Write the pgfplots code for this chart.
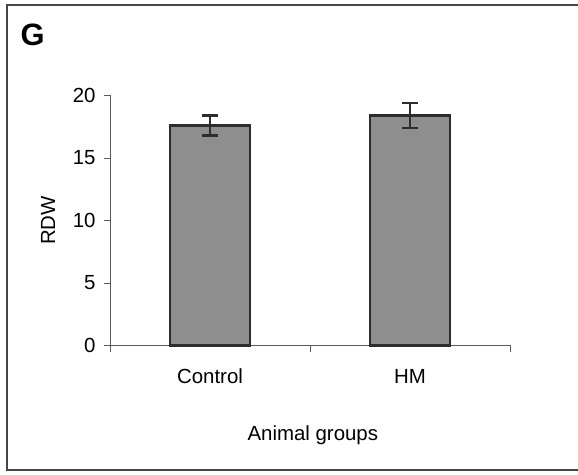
\documentclass[border=0pt]{standalone}
\usepackage{pgfplots}
\pgfplotsset{compat=1.18}
\usepackage{pgfplotstable}
\usepackage{fontspec}
\setmainfont{Liberation Sans}
\definecolor{barfill}{RGB}{142,142,142}
\definecolor{baredge}{RGB}{45,45,45}
\definecolor{axisgray}{RGB}{90,90,90}
\definecolor{framegray}{RGB}{70,70,70}

\pgfplotstableread{
x  rdw  err
1  17.6 0.8
2  18.4 1.0
}\rdwdata

\begin{document}
\begin{tikzpicture}
  \path[use as bounding box] (0,0) rectangle (578bp,475bp);
  % panel frame, open on the right as in the scan
  \draw[framegray, line width=1.6bp] (578bp,470bp) -- (7bp,470bp) -- (7bp,5bp) -- (578bp,5bp);
  \node[anchor=base west, inner sep=0pt, font=\fontsize{31}{34}\selectfont\bfseries]
    at (20.5bp,429bp) {G};

  \begin{axis}[
      at={(110bp,129.5bp)}, anchor=south west,
      scale only axis,
      width=400bp, height=250bp,
      xmin=0.5, xmax=2.5,
      ymin=0, ymax=20,
      axis x line=bottom, axis y line=left,
      axis line style={axisgray, line width=0.8bp, -},
      ytick={0,5,10,15,20},
      xtick={0.5,1.5,2.5},
      xticklabels={},
      extra x ticks={1,2},
      extra x tick labels={Control,HM},
      extra x tick style={major tick length=0pt,
        tick label style={anchor=base, yshift=-38bp}},
      tick align=outside,
      major tick length=6bp,
      tick style={axisgray, line width=0.8bp},
      ticklabel style={font=\fontsize{20.5}{24}\selectfont},
      yticklabel style={xshift=-5bp},
      /pgf/number format/assume math mode=true,
      label style={font=\fontsize{20.5}{24}\selectfont},
      xlabel={Animal groups},
      xlabel style={at={(axis description cs:0.507,-0.381)}, anchor=base},
      ylabel={RDW},
      ylabel style={at={(axis description cs:-0.155,0.5)}, anchor=center, rotate=0},
      clip=false,
    ]
    \addplot[ybar, bar width=80bp, fill=barfill, draw=baredge, line width=2.6bp,
      error bars/.cd, y dir=both, y explicit,
      error bar style={baredge, line width=2.2bp},
      error mark options={rotate=90, mark size=8bp, line width=2.2bp, baredge}]
      table[x=x, y=rdw, y error=err] {\rdwdata};
  \end{axis}
\end{tikzpicture}
\end{document}
